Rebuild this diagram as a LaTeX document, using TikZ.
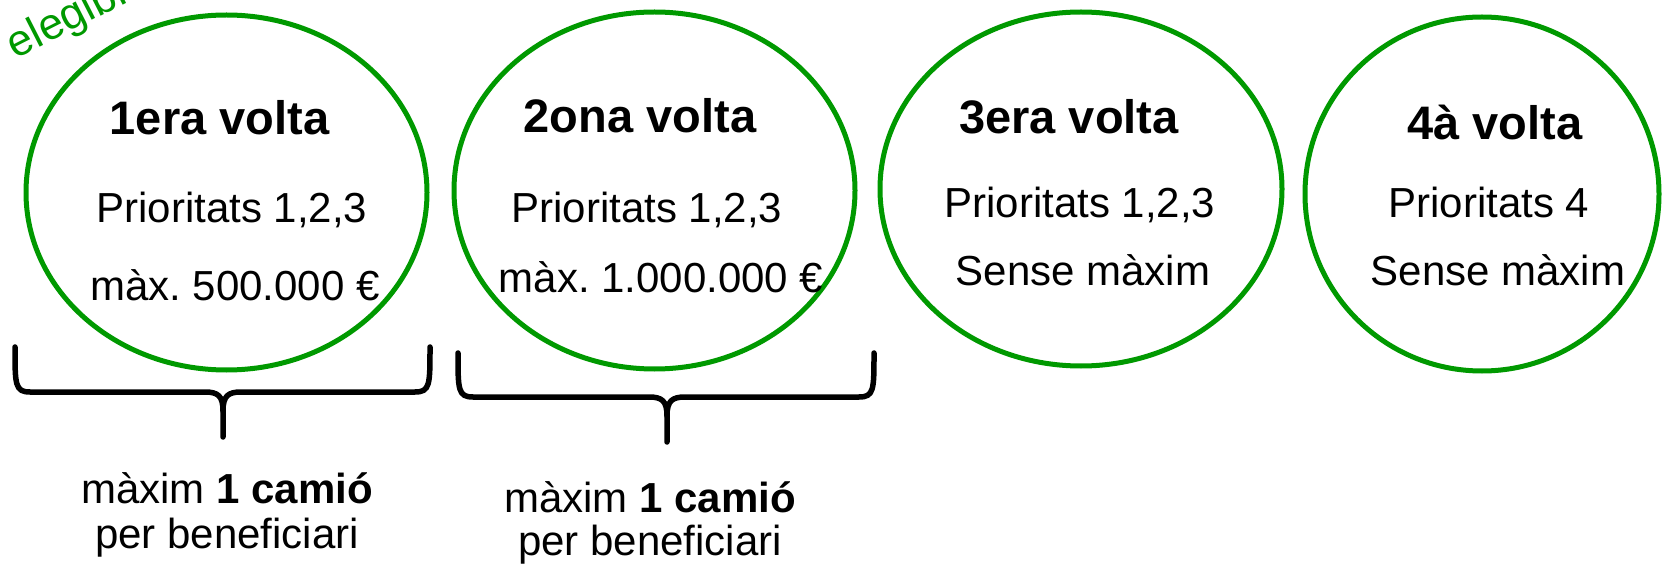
\documentclass[tikz,border=0pt]{standalone}
\usepackage{fontspec}
\setmainfont{Liberation Sans}
\usetikzlibrary{shapes.geometric}
\definecolor{vgreen}{HTML}{009900}
\frenchspacing
\begin{document}
\begin{tikzpicture}[x=1pt,y=1pt,
  ring/.style={ellipse,draw=vgreen,line width=5pt,inner sep=0pt},
  ttl/.style={anchor=base,inner sep=0pt,font=\fontsize{47}{50}\selectfont\bfseries},
  txt/.style={anchor=base,inner sep=0pt,font=\fontsize{42}{48}\selectfont},
  gtxt/.style={anchor=base west,inner sep=0pt,text=vgreen,rotate=27,font=\fontsize{44}{50}\selectfont},
  brace/.style={draw=black,line width=5.5pt,line cap=round,line join=round}]
\useasboundingbox (0,0) rectangle (1663,571);
\clip (0,0) rectangle (1663,571);
\fill[white] (0,0) rectangle (1663,571);

% green rotated caption (cut by the picture edge)
\node[gtxt] (gcap) at (-52,477) {per elegibles};

% rounds
\node[ring,minimum width=401pt,minimum height=355pt] (e1) at (226.5,378.5) {};
\node[ring,minimum width=401pt,minimum height=357pt] (e2) at (654.5,380.5) {};
\node[ring,minimum width=402pt,minimum height=354pt] (e3) at (1081,382) {};
\node[ring,minimum width=354pt,minimum height=354pt] (e4) at (1482,377) {};

\node[ttl] (t1) at (219.5,436) {1era volta};
\node[txt] (p1) at (232,348) {Prioritats 1,2,3};
\node[txt] (m1) at (235,270) {màx. 500.000 €};

\node[ttl] (t2) at (640,438) {2ona volta};
\node[txt] (p2) at (647,348) {Prioritats 1,2,3};
\node[txt] (m2) at (661,278) {màx. 1.000.000 €};

\node[ttl] (t3) at (1069,437) {3era volta};
\node[txt] (p3) at (1080,353) {Prioritats 1,2,3};
\node[txt] (m3) at (1083,285) {Sense màxim};

\node[ttl] (t4) at (1495,431) {4à volta};
\node[txt] (p4) at (1489,353) {Prioritats 4};
\node[txt] (m4) at (1498,285) {Sense màxim};

% braces
\draw[brace] (15,224) .. controls (15,186) and (15,179) .. (30,179) -- (205,179)
  .. controls (218,179) and (223,175) .. (223,160) -- (223,134);
\draw[brace] (430,224) .. controls (430,186) and (430,179) .. (415,179) -- (241,179)
  .. controls (228,179) and (223,175) .. (223,160);
\draw[brace] (458,218) .. controls (458,181) and (458,174) .. (473,174) -- (649,174)
  .. controls (662,174) and (667,170) .. (667,155) -- (667,129);
\draw[brace] (874,218) .. controls (874,181) and (874,174) .. (859,174) -- (685,174)
  .. controls (672,174) and (667,170) .. (667,155);

% notes
\node[txt] (n1a) at (227,68) {màxim \textbf{1 camió}};
\node[txt] (n1b) at (227,23) {per beneficiari};
\node[txt] (n2a) at (650,59) {màxim \textbf{1 camió}};
\node[txt] (n2b) at (650,16) {per beneficiari};
\end{tikzpicture}
\end{document}
